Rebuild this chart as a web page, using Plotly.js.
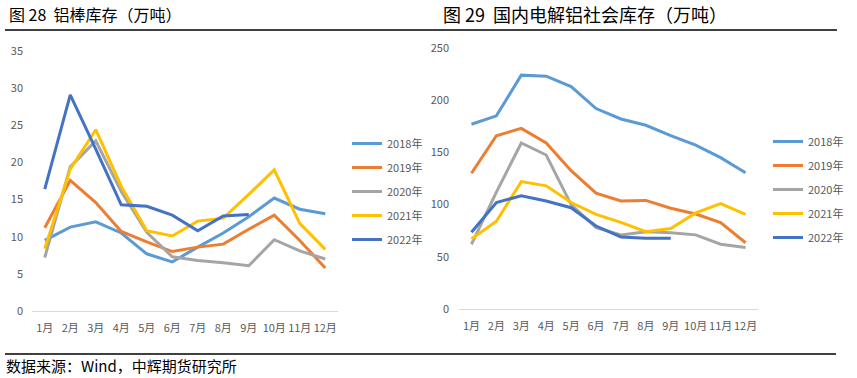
<!DOCTYPE html>
<html>
<head>
<meta charset="utf-8">
<script src="https://cdn.plot.ly/plotly-3.0.1.min.js"></script>
<style>html,body{margin:0;padding:0;background:#fff;}#chart{width:857px;height:378px;}</style>
</head>
<body>
<div id="chart"></div>
<script>
const months = ['1月','2月','3月','4月','5月','6月','7月','8月','9月','10月','11月','12月'];
const seriesNames = ['2018年','2019年','2020年','2021年','2022年'];
const seriesColors = ['#5B9BD5','#ED7D31','#A5A5A5','#FFC000','#4472C4'];

// 图28 铝棒库存（万吨）
const rod2018 = [9.5, 11.3, 12.0, 10.5, 7.7, 6.6, 8.6, 10.5, 12.7, 15.2, 13.7, 13.1];
const rod2019 = [11.2, 17.6, 14.6, 10.7, 9.3, 8.0, 8.6, 9.0, 11.0, 12.9, 9.5, 5.8];
const rod2020 = [7.2, 19.4, 22.9, 16.1, 10.6, 7.3, 6.8, 6.5, 6.1, 9.6, 8.1, 7.0];
const rod2021 = [8.4, 19.1, 24.4, 16.8, 10.8, 10.1, 12.1, 12.5, 15.7, 19.0, 11.8, 8.3];
const rod2022 = [16.4, 29.1, 21.8, 14.3, 14.1, 12.9, 10.8, 12.8, 13.0];

// 图29 国内电解铝社会库存（万吨）
const soc2018 = [177, 185, 224, 223, 213, 192, 182, 176, 166, 157, 145, 130.5];
const soc2019 = [130, 166, 173, 159, 132.5, 111, 103.5, 104, 96.5, 91, 82.7, 63.5];
const soc2020 = [62, 112, 159, 147.5, 100, 78, 71, 74, 73, 71, 62, 59];
const soc2021 = [67, 84, 122, 118, 102, 90.7, 83, 74, 77, 92, 101, 90.7];
const soc2022 = [73.5, 102, 108.5, 103.5, 97, 79.5, 69, 67.7, 67.7];

const rodData = [rod2018, rod2019, rod2020, rod2021, rod2022];
const socData = [soc2018, soc2019, soc2020, soc2021, soc2022];

const W = 857, H = 378;
const px = v => v / W;
const py = v => 1 - v / H;
const tickFont = {family: 'Noto Sans CJK SC, Liberation Sans, sans-serif', size: 11, color: '#595959'};

const traces = [];
rodData.forEach((d, i) => {
  traces.push({
    type: 'scatter', mode: 'lines', x: months.slice(0, d.length), y: d,
    name: seriesNames[i], legendgroup: 'a' + i, legend: 'legend',
    line: {color: seriesColors[i], width: 3}, xaxis: 'x', yaxis: 'y'
  });
});
socData.forEach((d, i) => {
  traces.push({
    type: 'scatter', mode: 'lines', x: months.slice(0, d.length), y: d,
    name: seriesNames[i], legendgroup: 'b' + i, legend: 'legend2',
    line: {color: seriesColors[i], width: 3}, xaxis: 'x2', yaxis: 'y2'
  });
});

const xCommon = {
  type: 'category', categoryorder: 'array', categoryarray: months,
  range: [-0.5, months.length - 0.5], tickangle: 0,
  showgrid: false, zeroline: false, showline: true, linecolor: '#D9D9D9', linewidth: 1,
  ticks: '', tickfont: tickFont, fixedrange: true, ticklabelstandoff: 7
};
const yCommon = {
  showgrid: false, zeroline: false, showline: false, ticks: '',
  tickfont: tickFont, fixedrange: true, ticklabelstandoff: 8
};

const legendCommon = {
  orientation: 'v', xanchor: 'left', yanchor: 'top', bgcolor: 'rgba(0,0,0,0)',
  font: {family: 'Noto Sans CJK SC, Liberation Sans, sans-serif', size: 11, color: '#595959'},
  tracegroupgap: 5, traceorder: 'grouped', itemclick: false, itemdoubleclick: false
};

const layout = {
  width: W, height: H,
  margin: {l: 0, r: 0, t: 0, b: 0},
  paper_bgcolor: '#fff', plot_bgcolor: '#fff',
  showlegend: true,
  xaxis: Object.assign({}, xCommon, {domain: [px(32), px(338)], anchor: 'y'}),
  yaxis: Object.assign({}, yCommon, {domain: [py(311), py(51)], range: [0, 35], dtick: 5, anchor: 'x'}),
  xaxis2: Object.assign({}, xCommon, {domain: [px(459), px(758)], anchor: 'y2'}),
  yaxis2: Object.assign({}, yCommon, {domain: [py(309), py(48)], range: [0, 250], dtick: 50, anchor: 'x2', ticklabelstandoff: 9}),
  legend: Object.assign({}, legendCommon, {x: px(347), y: py(129)}),
  legend2: Object.assign({}, legendCommon, {x: px(768), y: py(127)}),
  shapes: [
    {type: 'line', xref: 'paper', yref: 'paper', x0: px(5), x1: px(837), y0: py(30), y1: py(30), line: {color: '#000', width: 1.5}},
    {type: 'line', xref: 'paper', yref: 'paper', x0: px(5), x1: px(836), y0: py(354), y1: py(354), line: {color: '#000', width: 1.5}}
  ],
  annotations: [
    {text: '图 28  铝棒库存（万吨）', xref: 'paper', yref: 'paper', x: px(7), y: py(14), xanchor: 'left', yanchor: 'middle', showarrow: false,
     font: {family: 'Noto Sans CJK SC, sans-serif', size: 16, color: '#000'}},
    {text: '图 29  国内电解铝社会库存（万吨）', xref: 'paper', yref: 'paper', x: px(441), y: py(14), xanchor: 'left', yanchor: 'middle', showarrow: false,
     font: {family: 'Noto Sans CJK SC, sans-serif', size: 18, color: '#000'}},
    {text: '数据来源：Wind，中辉期货研究所', xref: 'paper', yref: 'paper', x: px(4), y: py(365), xanchor: 'left', yanchor: 'middle', showarrow: false,
     font: {family: 'Noto Sans CJK SC, sans-serif', size: 15, color: '#000'}}
  ]
};

Plotly.newPlot('chart', traces, layout, {displayModeBar: false, staticPlot: true});
</script>
</body>
</html>
